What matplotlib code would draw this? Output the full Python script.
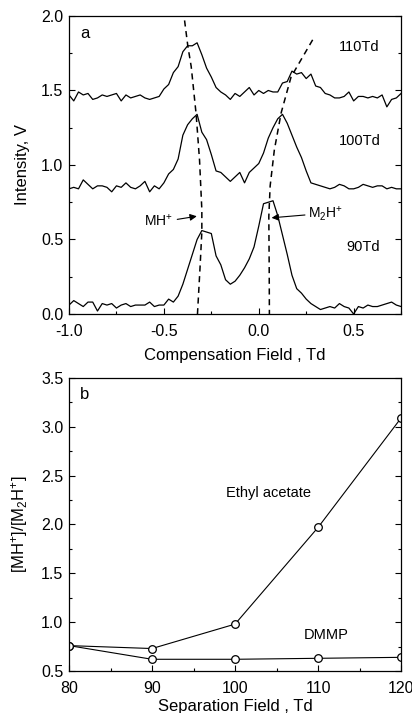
import numpy as np
import matplotlib.pyplot as plt
from matplotlib.ticker import MultipleLocator

plt.rcParams['font.family'] = ['Liberation Sans', 'DejaVu Sans']
plt.rcParams['mathtext.fontset'] = 'custom'
plt.rcParams['mathtext.rm'] = 'Liberation Sans'
plt.rcParams['mathtext.it'] = 'Liberation Sans:italic'
plt.rcParams['axes.unicode_minus'] = False

# ---- panel a: CV spectra ----
comp_field = np.round(np.arange(-1.0, 0.7501, 0.025), 3)

td110 = [1.47, 1.43, 1.49, 1.47, 1.48, 1.44, 1.45, 1.47, 1.46, 1.47,
         1.48, 1.43, 1.47, 1.45, 1.46, 1.47, 1.45, 1.44, 1.45, 1.46,
         1.51, 1.54, 1.62, 1.66, 1.76, 1.80, 1.80, 1.82, 1.74, 1.65,
         1.59, 1.52, 1.49, 1.47, 1.44, 1.48, 1.46, 1.49, 1.52, 1.47,
         1.50, 1.48, 1.50, 1.49, 1.49, 1.55, 1.56, 1.63, 1.61, 1.62,
         1.58, 1.61, 1.53, 1.52, 1.48, 1.47, 1.45, 1.45, 1.46, 1.49,
         1.43, 1.46, 1.46, 1.45, 1.46, 1.45, 1.47, 1.39, 1.44, 1.45,
         1.48]

td100 = [0.84, 0.85, 0.84, 0.90, 0.87, 0.84, 0.86, 0.86, 0.85, 0.82,
         0.86, 0.85, 0.88, 0.85, 0.84, 0.86, 0.89, 0.82, 0.86, 0.84,
         0.88, 0.94, 0.97, 1.04, 1.20, 1.27, 1.31, 1.34, 1.22, 1.17,
         1.07, 0.96, 0.95, 0.92, 0.89, 0.92, 0.95, 0.88, 0.95, 0.98,
         1.01, 1.08, 1.18, 1.25, 1.31, 1.34, 1.28, 1.20, 1.12, 1.05,
         0.96, 0.88, 0.87, 0.86, 0.85, 0.84, 0.85, 0.87, 0.86, 0.84,
         0.84, 0.85, 0.87, 0.86, 0.85, 0.86, 0.86, 0.84, 0.85, 0.84,
         0.84]

td90 = [0.06, 0.09, 0.07, 0.05, 0.08, 0.08, 0.02, 0.07, 0.06, 0.07,
        0.04, 0.06, 0.07, 0.05, 0.06, 0.06, 0.06, 0.08, 0.05, 0.06,
        0.06, 0.10, 0.08, 0.12, 0.20, 0.30, 0.40, 0.50, 0.56, 0.55,
        0.54, 0.39, 0.33, 0.23, 0.20, 0.22, 0.26, 0.31, 0.37, 0.45,
        0.59, 0.74, 0.75, 0.76, 0.66, 0.53, 0.40, 0.26, 0.17, 0.14,
        0.10, 0.07, 0.05, 0.03, 0.04, 0.05, 0.04, 0.07, 0.05, 0.04,
        0.00, 0.05, 0.04, 0.06, 0.05, 0.05, 0.06, 0.07, 0.08, 0.06,
        0.05]

# peak-position guide lines
mh_x = [-0.391, -0.374, -0.356, -0.33, -0.312, -0.30, -0.30, -0.31, -0.323]
mh_y = [1.97, 1.80, 1.66, 1.34, 1.03, 0.70, 0.55, 0.30, 0.0]
m2h_x = [0.284, 0.22, 0.17, 0.118, 0.082, 0.06, 0.053, 0.055, 0.056]
m2h_y = [1.84, 1.70, 1.59, 1.35, 1.10, 0.86, 0.655, 0.30, 0.0]

# ---- panel b: ratio vs separation field ----
sep_field = [80, 90, 100, 110, 120]
ethyl_acetate = [0.76, 0.73, 0.98, 1.97, 3.09]
dmmp = [0.76, 0.62, 0.62, 0.63, 0.64]

fig = plt.figure(figsize=(4.12, 7.13), dpi=100)
ax1 = fig.add_axes([0.1675, 0.5596, 0.806, 0.418])
ax2 = fig.add_axes([0.1675, 0.0589, 0.806, 0.411])

for tr in (td110, td100, td90):
    ax1.plot(comp_field, tr, color='black', lw=0.9)
ax1.plot(mh_x, mh_y, color='black', lw=1.1, ls=(0, (4, 3)))
ax1.plot(m2h_x, m2h_y, color='black', lw=1.1, ls=(0, (4, 3)))

ax1.annotate('', xy=(-0.312, 0.659), xytext=(-0.444, 0.632),
             arrowprops=dict(arrowstyle='-|>', color='black', lw=0.8,
                             mutation_scale=10))
ax1.annotate('', xy=(0.053, 0.644), xytext=(0.258, 0.666),
             arrowprops=dict(arrowstyle='-|>', color='black', lw=0.8,
                             mutation_scale=10))
ax1.text(-0.452, 0.63, 'MH$^{+}$', ha='right', va='center', fontsize=10)
ax1.text(0.262, 0.67, 'M$_{2}$H$^{+}$', ha='left', va='center', fontsize=10)

ax1.text(0.53, 1.79, '110Td', ha='center', va='center', fontsize=10.5)
ax1.text(0.53, 1.16, '100Td', ha='center', va='center', fontsize=10.5)
ax1.text(0.55, 0.45, '90Td', ha='center', va='center', fontsize=10.5)
ax1.text(-0.918, 1.88, 'a', ha='center', va='center', fontsize=12)

ax1.set_xlim(-1.0, 0.75)
ax1.set_ylim(0.0, 2.0)
ax1.xaxis.set_major_locator(MultipleLocator(0.5))
ax1.xaxis.set_minor_locator(MultipleLocator(0.25))
ax1.yaxis.set_major_locator(MultipleLocator(0.5))
ax1.yaxis.set_minor_locator(MultipleLocator(0.25))
ax1.set_xlabel('Compensation Field , Td', fontsize=12, labelpad=7)
ax1.set_ylabel('Intensity, V', fontsize=12, labelpad=8)

ax2.plot(sep_field, ethyl_acetate, color='black', lw=0.8, marker='o',
         ms=5.5, mfc='white', mec='black', mew=0.9)
ax2.plot(sep_field, dmmp, color='black', lw=0.8, marker='o',
         ms=5.5, mfc='white', mec='black', mew=0.9)
ax2.text(104.0, 2.32, 'Ethyl acetate', ha='center', va='center', fontsize=10.5)
ax2.text(111.0, 0.87, 'DMMP', ha='center', va='center', fontsize=10.5)
ax2.text(81.9, 3.33, 'b', ha='center', va='center', fontsize=12)

ax2.set_xlim(80, 120)
ax2.set_ylim(0.5, 3.5)
ax2.xaxis.set_major_locator(MultipleLocator(10))
ax2.xaxis.set_minor_locator(MultipleLocator(5))
ax2.yaxis.set_major_locator(MultipleLocator(0.5))
ax2.yaxis.set_minor_locator(MultipleLocator(0.25))
ax2.set_xlabel('Separation Field , Td', fontsize=12, labelpad=2)
ax2.set_ylabel('[MH$^{+}$]/[M$_{2}$H$^{+}$]', fontsize=12, labelpad=8)

for ax in (ax1, ax2):
    ax.tick_params(which='both', direction='in', right=True, top=False,
                   labelsize=11.5, width=0.8)
    ax.tick_params(axis='x', pad=7)
    ax.tick_params(axis='y', pad=4)
    ax.tick_params(which='major', length=4)
    ax.tick_params(which='minor', length=2.5)
    for sp in ax.spines.values():
        sp.set_linewidth(0.9)

fig.savefig('out.png', dpi=100)
